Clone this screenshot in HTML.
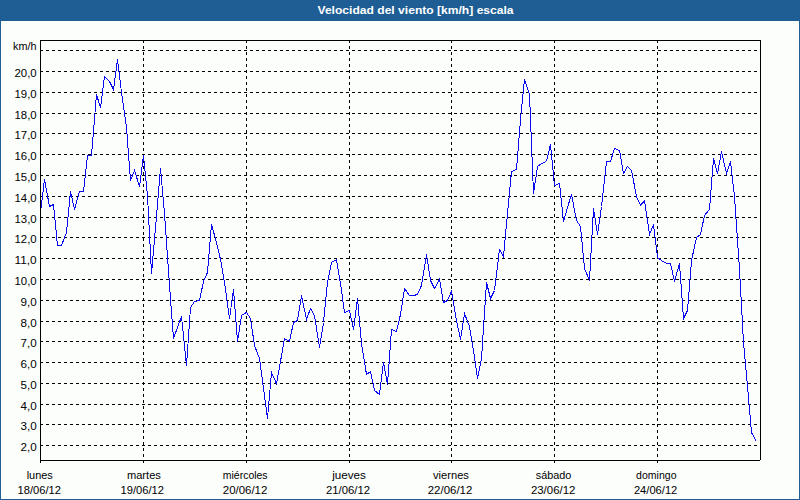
<!DOCTYPE html>
<html><head><meta charset="utf-8"><title>Velocidad del viento</title>
<style>html,body{margin:0;padding:0;background:#fcfefc;}body{width:800px;height:500px;overflow:hidden;font-family:"Liberation Sans",sans-serif;}svg{display:block}</style>
</head><body>
<svg width="800" height="500" viewBox="0 0 800 500">
<rect x="0" y="0" width="800" height="500" fill="#fcfefc"/>
<rect x="0" y="0" width="800" height="21" fill="#1e5e94"/>
<rect x="0" y="0" width="1" height="500" fill="#1e5e94"/>
<rect x="799" y="0" width="1" height="500" fill="#1e5e94"/>
<rect x="0" y="499" width="800" height="1" fill="#1e5e94"/>
<g stroke="#000" stroke-width="1" stroke-dasharray="3 3" shape-rendering="crispEdges"><line x1="40" y1="50.5" x2="760" y2="50.5"/><line x1="40" y1="71.5" x2="760" y2="71.5"/><line x1="40" y1="92.5" x2="760" y2="92.5"/><line x1="40" y1="113.5" x2="760" y2="113.5"/><line x1="40" y1="133.5" x2="760" y2="133.5"/><line x1="40" y1="154.5" x2="760" y2="154.5"/><line x1="40" y1="175.5" x2="760" y2="175.5"/><line x1="40" y1="196.5" x2="760" y2="196.5"/><line x1="40" y1="217.5" x2="760" y2="217.5"/><line x1="40" y1="237.5" x2="760" y2="237.5"/><line x1="40" y1="258.5" x2="760" y2="258.5"/><line x1="40" y1="279.5" x2="760" y2="279.5"/><line x1="40" y1="300.5" x2="760" y2="300.5"/><line x1="40" y1="321.5" x2="760" y2="321.5"/><line x1="40" y1="341.5" x2="760" y2="341.5"/><line x1="40" y1="362.5" x2="760" y2="362.5"/><line x1="40" y1="383.5" x2="760" y2="383.5"/><line x1="40" y1="404.5" x2="760" y2="404.5"/><line x1="40" y1="424.5" x2="760" y2="424.5"/><line x1="40" y1="445.5" x2="760" y2="445.5"/><line x1="143.5" y1="40" x2="143.5" y2="460"/><line x1="246.5" y1="40" x2="246.5" y2="460"/><line x1="349.5" y1="40" x2="349.5" y2="460"/><line x1="451.5" y1="40" x2="451.5" y2="460"/><line x1="554.5" y1="40" x2="554.5" y2="460"/><line x1="657.5" y1="40" x2="657.5" y2="460"/></g>
<g fill="#000"><rect x="143" y="461" width="1" height="2"/><rect x="246" y="461" width="1" height="2"/><rect x="349" y="461" width="1" height="2"/><rect x="451" y="461" width="1" height="2"/><rect x="554" y="461" width="1" height="2"/><rect x="657" y="461" width="1" height="2"/></g>
<polyline fill="none" stroke="#0a0af0" stroke-width="1" shape-rendering="crispEdges" points="40.5,212.5 44.5,179.5 49.5,206.5 53.5,204.5 57.5,245.5 61.5,245.5 66.5,232.5 70.5,191.5 74.5,209.5 79.5,191.5 83.5,191.5 87.5,155.5 91.5,155.5 96.5,94.5 100.5,107.5 104.5,76.5 109.5,81.5 113.5,89.5 117.5,59.5 121.5,92.5 126.5,127.5 130.5,180.5 134.5,170.5 139.5,186.5 143.5,155.5 147.5,195.5 151.5,273.5 156.5,216.5 160.5,168.5 164.5,213.5 169.5,285.5 173.5,338.5 177.5,327.5 181.5,316.5 186.5,365.5 190.5,307.5 194.5,301.5 199.5,300.5 203.5,281.5 207.5,272.5 211.5,224.5 216.5,242.5 220.5,259.5 224.5,282.5 229.5,318.5 233.5,289.5 237.5,341.5 241.5,315.5 246.5,312.5 250.5,318.5 254.5,345.5 259.5,358.5 263.5,388.5 267.5,418.5 271.5,372.5 276.5,383.5 280.5,361.5 284.5,338.5 289.5,341.5 293.5,322.5 297.5,320.5 301.5,295.5 306.5,319.5 310.5,308.5 314.5,315.5 319.5,347.5 323.5,322.5 327.5,282.5 331.5,262.5 336.5,259.5 340.5,283.5 344.5,312.5 349.5,310.5 353.5,329.5 357.5,298.5 361.5,343.5 366.5,374.5 370.5,371.5 374.5,390.5 379.5,394.5 383.5,362.5 387.5,384.5 391.5,329.5 396.5,331.5 400.5,314.5 404.5,288.5 409.5,295.5 413.5,295.5 417.5,294.5 421.5,285.5 426.5,254.5 430.5,280.5 434.5,288.5 439.5,279.5 443.5,302.5 447.5,300.5 451.5,291.5 456.5,320.5 460.5,339.5 464.5,313.5 469.5,326.5 473.5,350.5 477.5,378.5 481.5,358.5 486.5,282.5 490.5,298.5 494.5,290.5 499.5,249.5 503.5,256.5 507.5,213.5 511.5,171.5 516.5,169.5 520.5,119.5 524.5,79.5 529.5,94.5 533.5,193.5 537.5,166.5 541.5,163.5 546.5,161.5 550.5,144.5 554.5,185.5 559.5,183.5 563.5,221.5 567.5,207.5 571.5,194.5 576.5,220.5 580.5,226.5 584.5,268.5 589.5,280.5 593.5,208.5 597.5,234.5 601.5,206.5 606.5,161.5 610.5,161.5 614.5,148.5 619.5,150.5 623.5,173.5 627.5,166.5 631.5,170.5 636.5,196.5 640.5,205.5 644.5,200.5 649.5,234.5 653.5,224.5 657.5,257.5 661.5,260.5 666.5,263.5 670.5,263.5 674.5,281.5 679.5,263.5 683.5,318.5 687.5,310.5 691.5,260.5 696.5,237.5 700.5,234.5 704.5,215.5 709.5,209.5 713.5,158.5 717.5,173.5 721.5,151.5 726.5,173.5 730.5,161.5 734.5,196.5 739.5,269.5 743.5,342.5 747.5,386.5 751.5,432.5 756.5,441.5"/>
<g fill="#000"><rect x="40" y="40" width="721" height="1"/><rect x="40" y="40" width="1" height="423"/><rect x="760" y="40" width="1" height="420"/><rect x="40" y="460" width="720" height="1"/></g>
<g font-family="Liberation Sans, sans-serif" font-size="11" fill="#000000"><text x="317.50" y="14" font-weight="bold" fill="#fff" textLength="196.10" lengthAdjust="spacingAndGlyphs">Velocidad del viento [km/h] escala</text><text x="13.10" y="50" textLength="23.50" lengthAdjust="spacingAndGlyphs">km/h</text><text x="14.50" y="77" textLength="22.20" lengthAdjust="spacingAndGlyphs">20,0</text><text x="14.50" y="98" textLength="22.20" lengthAdjust="spacingAndGlyphs">19,0</text><text x="14.50" y="119" textLength="22.20" lengthAdjust="spacingAndGlyphs">18,0</text><text x="14.50" y="139" textLength="22.20" lengthAdjust="spacingAndGlyphs">17,0</text><text x="14.50" y="160" textLength="22.20" lengthAdjust="spacingAndGlyphs">16,0</text><text x="14.50" y="181" textLength="22.20" lengthAdjust="spacingAndGlyphs">15,0</text><text x="14.50" y="202" textLength="22.20" lengthAdjust="spacingAndGlyphs">14,0</text><text x="14.50" y="223" textLength="22.20" lengthAdjust="spacingAndGlyphs">13,0</text><text x="14.50" y="243" textLength="22.20" lengthAdjust="spacingAndGlyphs">12,0</text><text x="14.50" y="264" textLength="22.20" lengthAdjust="spacingAndGlyphs">11,0</text><text x="14.50" y="285" textLength="22.20" lengthAdjust="spacingAndGlyphs">10,0</text><text x="20.50" y="306" textLength="16.20" lengthAdjust="spacingAndGlyphs">9,0</text><text x="20.50" y="327" textLength="16.20" lengthAdjust="spacingAndGlyphs">8,0</text><text x="20.50" y="347" textLength="16.20" lengthAdjust="spacingAndGlyphs">7,0</text><text x="20.50" y="368" textLength="16.20" lengthAdjust="spacingAndGlyphs">6,0</text><text x="20.50" y="389" textLength="16.20" lengthAdjust="spacingAndGlyphs">5,0</text><text x="20.50" y="410" textLength="16.20" lengthAdjust="spacingAndGlyphs">4,0</text><text x="20.50" y="430" textLength="16.20" lengthAdjust="spacingAndGlyphs">3,0</text><text x="20.50" y="451" textLength="16.20" lengthAdjust="spacingAndGlyphs">2,0</text><text x="26.70" y="479" textLength="26.10" lengthAdjust="spacingAndGlyphs">lunes</text><text x="17.50" y="494" textLength="43.50" lengthAdjust="spacingAndGlyphs">18/06/12</text><text x="126.90" y="479" textLength="34.00" lengthAdjust="spacingAndGlyphs">martes</text><text x="120.50" y="494" textLength="43.40" lengthAdjust="spacingAndGlyphs">19/06/12</text><text x="222.80" y="479" textLength="44.80" lengthAdjust="spacingAndGlyphs">miércoles</text><text x="222.80" y="494" textLength="44.50" lengthAdjust="spacingAndGlyphs">20/06/12</text><text x="332.25" y="479" textLength="33.65" lengthAdjust="spacingAndGlyphs">jueves</text><text x="325.90" y="494" textLength="44.10" lengthAdjust="spacingAndGlyphs">21/06/12</text><text x="433.00" y="479" textLength="35.90" lengthAdjust="spacingAndGlyphs">viernes</text><text x="427.75" y="494" textLength="44.55" lengthAdjust="spacingAndGlyphs">22/06/12</text><text x="535.75" y="479" textLength="35.65" lengthAdjust="spacingAndGlyphs">sábado</text><text x="530.90" y="494" textLength="44.50" lengthAdjust="spacingAndGlyphs">23/06/12</text><text x="636.10" y="479" textLength="40.40" lengthAdjust="spacingAndGlyphs">domingo</text><text x="633.90" y="494" textLength="43.40" lengthAdjust="spacingAndGlyphs">24/06/12</text></g>
</svg>
</body></html>
